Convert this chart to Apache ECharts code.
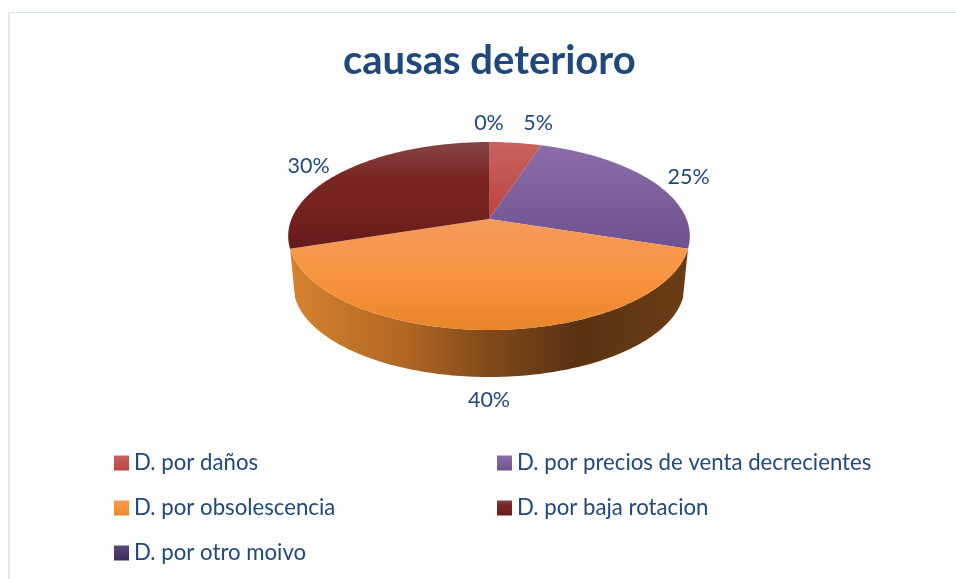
<!DOCTYPE html>
<html>
<head>
<meta charset="utf-8">
<style>html,body{margin:0;padding:0;background:#fff}#main{width:956px;height:579px}</style>
<script src="https://cdn.jsdelivr.net/npm/echarts@6/dist/echarts.min.js"></script>
</head>
<body>
<div id="main"></div>
<script>
var titleText = 'causas deterioro';
var categories = ['D. por daños', 'D. por precios de venta decrecientes', 'D. por obsolescencia', 'D. por baja rotacion', 'D. por otro moivo'];
var values = [5, 25, 40, 30, 0];

var textColor = '#1F497D';
var font = 'Lato';
var topColors = [
    ['#C9625E', '#BB4340'],
    ['#8B6DA9', '#6F518F'],
    ['#F59A5E', '#F9953F', '#E8852B'],
    ['#864646', '#7A2523', '#742220', '#651A19'],
    ['#5A4A78', '#3F2A5C']
];
var legendPos = [[114, 452], [497, 452], [114, 497], [497, 497], [114, 542]];
var labelNudge = [[23, -20], [37, -4], [0, 23], [-36, -5], [0, -19]];

// perspective ellipse of the pie top
var cx = 489, cy = 219, A = 197.5, B = 90.9, k = 0.181;
var depthCy = 268.8, depthScale = 0.975;

function project(deg, y0, s) {
    var t = deg * Math.PI / 180;
    var u = Math.sin(t), v = -Math.cos(t), w = 1 - k * v;
    return [cx + s * A * u / w, y0 + s * B * v / w];
}

function grad(list, x2, y2) {
    var stops = list.map(function (c, i) {
        return {offset: i / (list.length - 1), color: c};
    });
    return new echarts.graphic.LinearGradient(0, 0, x2, y2, stops);
}

var total = values.reduce(function (a, b) { return a + b; }, 0);
var startAngle = [];
values.reduce(function (acc, v, i) { startAngle[i] = acc; return acc + v / total * 360; }, 0);

// side of the disc: dark to the right, only the front part is seen
var sideStops = [
    {offset: 0, color: '#D6832F'},
    {offset: 0.3, color: '#AE6622'},
    {offset: 0.5, color: '#80491B'},
    {offset: 0.72, color: '#5A3212'},
    {offset: 1, color: '#6B3D15'}
];

function renderSlice(idx) {
    return function (params, api) {
        var v = api.value(0);
        var a0 = startAngle[idx], a1 = a0 + v / total * 360;
        var children = [];
        var d;

        var fa = Math.max(a0, 108), fb = Math.min(a1, 252);
        if (fb > fa) {
            var side = [];
            for (d = fa; d <= fb + 0.001; d += 1) side.push(project(d, cy, 1));
            for (d = fb; d >= fa - 0.001; d -= 1) side.push(project(d, depthCy, depthScale));
            children.push({
                type: 'polygon',
                shape: {points: side},
                style: {fill: new echarts.graphic.LinearGradient(0, 0, 1, 0, sideStops)}
            });
        }

        if (v > 0) {
            var pts = [[cx, cy]];
            for (d = a0; d < a1; d += 1) pts.push(project(d, cy, 1));
            pts.push(project(a1, cy, 1));
            children.push({
                type: 'polygon',
                shape: {points: pts},
                style: {fill: grad(topColors[idx], 0, 1)}
            });
        }

        var mid = project((a0 + a1) / 2, cy, 1);
        children.push({
            type: 'text',
            z2: 10,
            style: {
                x: mid[0] + labelNudge[idx][0],
                y: mid[1] + labelNudge[idx][1] + (idx === 2 ? 47 : 0),
                text: v + '%',
                fill: textColor,
                font: '21.5px ' + font,
                align: 'center',
                verticalAlign: 'middle'
            }
        });
        return {type: 'group', children: children};
    };
}

var chart = echarts.init(document.getElementById('main'), null, {renderer: 'canvas'});
chart.setOption({
    animation: false,
    backgroundColor: '#fff',
    title: {
        text: titleText,
        left: 338,
        top: 36,
        textStyle: {color: textColor, fontFamily: font, fontWeight: 'bold', fontSize: 40}
    },
    legend: categories.map(function (name, i) {
        return {
            data: [name],
            left: legendPos[i][0],
            top: legendPos[i][1],
            padding: 0,
            itemWidth: 15,
            itemHeight: 15,
            icon: 'rect',
            selectedMode: false,
            textStyle: {color: textColor, fontFamily: font, fontSize: 22.2}
        };
    }),
    graphic: [
        {type: 'rect', shape: {x: 8, y: 12, width: 948, height: 1}, style: {fill: '#D5E4F3'}},
        {type: 'rect', shape: {x: 8, y: 12, width: 2, height: 567}, style: {fill: '#DCE8F5'}}
    ],
    series: categories.map(function (name, i) {
        return {
            type: 'custom',
            name: name,
            coordinateSystem: 'none',
            itemStyle: {color: grad(topColors[i], 0, 1)},
            renderItem: renderSlice(i),
            data: [[values[i]]]
        };
    })
});
</script>
</body>
</html>
